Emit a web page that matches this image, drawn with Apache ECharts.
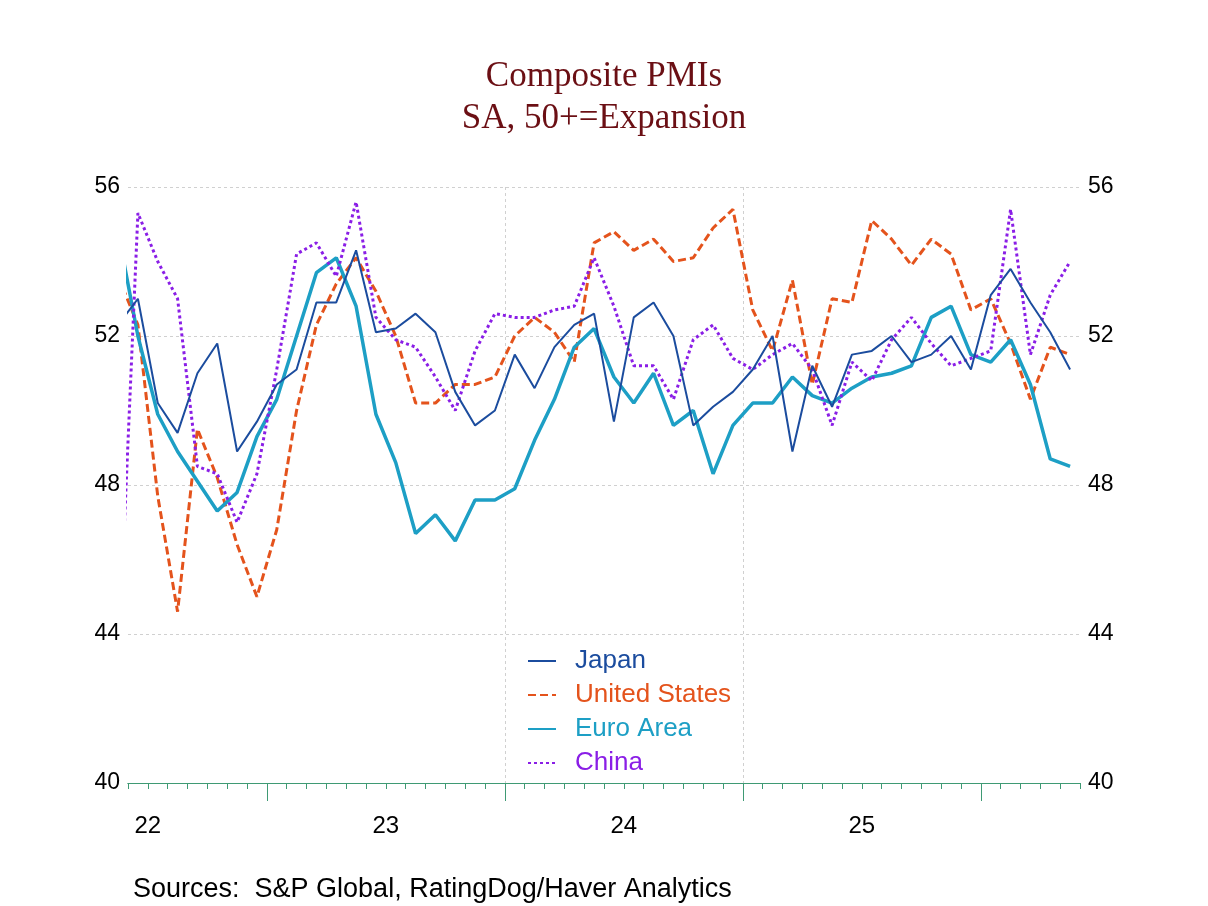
<!DOCTYPE html>
<html>
<head>
<meta charset="utf-8">
<title>Composite PMIs</title>
<script src="https://cdn.jsdelivr.net/npm/echarts@6/dist/echarts.min.js"></script>
<style>
  html, body { margin: 0; padding: 0; background: #fff; }
  #pmiChart { width: 1208px; height: 906px; }
</style>
</head>
<body>
<div id="pmiChart"></div>
<script>
// months counted from Jan 2022 (0 = Jan 2022); first value is May 2022, cut by the left edge
var firstMonth = 4;
var axisStart = 5;   // Jun 2022
var axisEnd = 53;    // end of May 2026

var seriesNames = ['Japan', 'United States', 'Euro Area', 'China'];

var japan = [52.3, 53.0, 50.2, 49.4, 51.0, 51.8, 48.9, 49.7,
    50.7, 51.1, 52.9, 52.9, 54.3, 52.1, 52.2, 52.6, 52.1, 50.5, 49.6, 50.0,
    51.5, 50.6, 51.7, 52.3, 52.6, 49.7, 52.5, 52.9, 52.0, 49.6, 50.1, 50.5,
    51.1, 52.0, 48.9, 51.2, 50.1, 51.5, 51.6, 52.0, 51.3, 51.5, 52.0, 51.1,
    53.1, 53.8, 52.9, 52.1, 51.1];

var unitedStates = [53.6, 52.3, 47.7, 44.6, 49.5, 48.2, 46.4, 45.0,
    46.8, 50.0, 52.3, 53.4, 54.1, 53.2, 52.0, 50.2, 50.2, 50.7, 50.7, 50.9,
    52.0, 52.5, 52.1, 51.3, 54.5, 54.8, 54.3, 54.6, 54.0, 54.1, 54.9, 55.4,
    52.7, 51.6, 53.5, 50.7, 53.0, 52.9, 55.1, 54.6, 53.9, 54.6, 54.2, 52.7,
    53.0, 51.8, 50.3, 51.7, 51.5];

var euroArea = [54.8, 52.0, 49.9, 48.9, 48.1, 47.3, 47.8, 49.3,
    50.3, 52.0, 53.7, 54.1, 52.8, 49.9, 48.6, 46.7, 47.2, 46.5, 47.6, 47.6,
    47.9, 49.2, 50.3, 51.7, 52.2, 50.9, 50.2, 51.0, 49.6, 50.0, 48.3, 49.6,
    50.2, 50.2, 50.9, 50.4, 50.2, 50.6, 50.9, 51.0, 51.2, 52.5, 52.8, 51.5,
    51.3, 51.9, 50.7, 48.7, 48.5];

var china = [43.0, 55.3, 54.0, 53.0, 48.5, 48.3, 47.0, 48.3,
    51.1, 54.2, 54.5, 53.6, 55.6, 52.5, 51.9, 51.7, 50.9, 50.0, 51.6, 52.6,
    52.5, 52.5, 52.7, 52.8, 54.1, 52.8, 51.2, 51.2, 50.3, 51.9, 52.3, 51.4,
    51.1, 51.5, 51.8, 51.1, 49.6, 51.3, 50.8, 51.9, 52.5, 51.8, 51.2, 51.4,
    51.6, 55.4, 51.5, 53.1, 54.0];

// x axis: year labels sit at mid-year, big ticks at each new year
var yearLabels = ['22', '23', '24', '25'];
var yearLabelMonths = [6, 18, 30, 42];
var yearStartMonths = [12, 24, 36, 48];

var pmiChart = {

    chart: null,
    font: 'Liberation Sans',
    colors: ['#1b4c9e', '#e4531c', '#1d9fc5', '#8a1ee6'],

    init: function () {
        pmiChart.chart = echarts.init(document.getElementById('pmiChart'));
        pmiChart.chart.setOption(pmiChart.buildOption());
    },

    // month values are plotted in the middle of their month
    toPoints: function (values) {
        var res = [];
        for (var i = 0; i < values.length; i++) {
            res.push([firstMonth + i + 0.5, values[i]]);
        }
        return res;
    },

    buildSeries: function () {
        var lines = [
            { data: japan, width: 2, type: 'solid' },
            { data: unitedStates, width: 3, type: [8, 4] },
            { data: euroArea, width: 3.5, type: 'solid' },
            { data: china, width: 3, type: [3, 3] }
        ];
        var series = [];
        for (var i = 0; i < lines.length; i++) {
            series.push({
                name: seriesNames[i],
                type: 'line',
                xAxisIndex: 1,
                symbol: 'none',
                clip: true,
                z: i === 0 ? 5 : 3,
                lineStyle: {
                    color: pmiChart.colors[i],
                    width: lines[i].width,
                    type: lines[i].type
                },
                itemStyle: { color: pmiChart.colors[i] },
                data: pmiChart.toPoints(lines[i].data)
            });
        }
        return series;
    },

    buildOption: function () {
        var legendData = seriesNames.map(function (name, i) {
            return { name: name, textStyle: { color: pmiChart.colors[i] } };
        });
        var yAxisBase = {
            type: 'value',
            min: 40,
            max: 56,
            interval: 4,
            axisLine: { show: false },
            axisTick: { show: false },
            axisLabel: { color: '#000', fontSize: 23, fontFamily: pmiChart.font, margin: 8 }
        };
        return {
            backgroundColor: '#fff',
            animation: false,
            title: [{
                text: 'Composite PMIs\nSA, 50+=Expansion',
                left: 'center',
                top: 51,
                textStyle: {
                    color: '#6b0f14',
                    fontFamily: 'Liberation Serif',
                    fontWeight: 'normal',
                    fontSize: 35,
                    lineHeight: 42
                }
            }, {
                text: 'Sources:  S&P Global, RatingDog/Haver Analytics',
                left: 128,
                top: 871,
                textStyle: {
                    color: '#000',
                    fontFamily: pmiChart.font,
                    fontWeight: 'normal',
                    fontSize: 27
                }
            }],
            legend: {
                orient: 'vertical',
                left: 522,
                top: 643,
                itemWidth: 28,
                itemHeight: 14,
                itemGap: 8,
                itemStyle: { opacity: 0 },
                textStyle: {
                    fontSize: 26,
                    fontFamily: pmiChart.font,
                    padding: [0, 0, 0, 14]
                },
                data: legendData
            },
            grid: {
                left: 128,
                right: 128,
                top: 187,
                bottom: 123
            },
            xAxis: [{
                // year ticks, year labels and vertical grid lines
                type: 'value',
                position: 'bottom',
                min: axisStart,
                max: axisEnd,
                interval: 12,
                axisLine: { onZero: false, lineStyle: { color: '#3f9a74', width: 1 } },
                axisTick: {
                    customValues: yearStartMonths,
                    length: 18,
                    lineStyle: { color: '#3f9a74' }
                },
                axisLabel: {
                    customValues: yearLabelMonths,
                    formatter: function (v) {
                        var k = yearLabelMonths.indexOf(v);
                        return k >= 0 ? yearLabels[k] : '';
                    },
                    color: '#000',
                    fontSize: 24,
                    fontFamily: pmiChart.font,
                    margin: 31
                },
                splitLine: {
                    show: true,
                    showMinLine: false,
                    showMaxLine: false,
                    lineStyle: { color: '#d0d0d0', type: [3, 3] }
                }
            }, {
                // month ticks
                type: 'value',
                position: 'bottom',
                min: axisStart,
                max: axisEnd,
                interval: 1,
                axisLine: { onZero: false, lineStyle: { color: '#3f9a74', width: 1 } },
                axisTick: { length: 6, lineStyle: { color: '#3f9a74' } },
                axisLabel: { show: false },
                splitLine: { show: false }
            }],
            yAxis: [
                echarts.util.merge({
                    position: 'left',
                    splitLine: { show: true, lineStyle: { color: '#d0d0d0', type: [3, 3] } }
                }, yAxisBase, true),
                echarts.util.merge({
                    position: 'right',
                    splitLine: { show: false }
                }, yAxisBase, true)
            ],
            series: pmiChart.buildSeries()
        };
    }
};

pmiChart.init();
</script>
</body>
</html>
